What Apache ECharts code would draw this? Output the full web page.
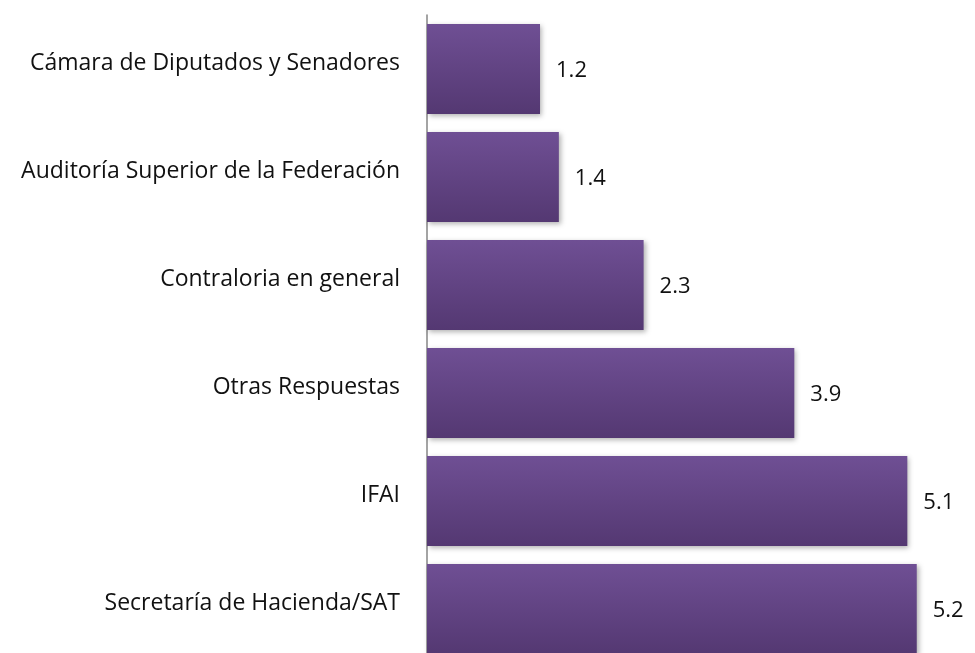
<!DOCTYPE html>
<html>
<head>
<meta charset="utf-8">
<script src="https://cdn.jsdelivr.net/npm/echarts@6/dist/echarts.min.js"></script>
<style>
  html, body { margin: 0; padding: 0; background: #fff; }
  #chart { width: 975px; height: 653px; }
</style>
</head>
<body>
<div id="chart"></div>
<script>
// datos
const categories = [
  'Cámara de Diputados y Senadores',
  'Auditoría Superior de la Federación',
  'Contraloria en general',
  'Otras Respuestas',
  'IFAI',
  'Secretaría de Hacienda/SAT'
]
const values = [1.2, 1.4, 2.3, 3.9, 5.1, 5.2]

const chart = echarts.init(document.getElementById('chart'))

const option = {
  animation: false,
  grid: { left: 427, right: 30, top: 15, height: 648, outerBoundsMode: 'none', containLabel: false },
  xAxis: {
    type: 'value',
    min: 0,
    max: 5.5,
    show: false
  },
  yAxis: {
    type: 'category',
    data: categories,
    inverse: true,
    axisLine: { show: true, lineStyle: { color: '#868686', width: 1.5 } },
    axisTick: { show: false },
    axisLabel: {
      margin: 27,
      formatter: v => '{t|' + v + '}',
      rich: {
        t: {
          fontFamily: 'Open Sans',
          fontSize: 23,
          color: '#111',
          padding: [0, 0, 12, 0]
        }
      }
    }
  },
  series: [{
    type: 'bar',
    data: values,
    barWidth: 90,
    itemStyle: {
      color: new echarts.graphic.LinearGradient(0, 0, 0, 1, [
        { offset: 0, color: '#6f4f94' },
        { offset: 1, color: '#543872' }
      ]),
      shadowBlur: 5,
      shadowOffsetX: 2,
      shadowOffsetY: 2,
      shadowColor: 'rgba(0,0,0,0.3)'
    },
    label: {
      show: true,
      position: 'right',
      distance: 16,
      offset: [0, 2],
      fontFamily: 'Open Sans',
      fontSize: 22,
      color: '#111',
      formatter: p => p.value.toFixed(1)
    }
  }]
}

chart.setOption(option)
</script>
</body>
</html>
